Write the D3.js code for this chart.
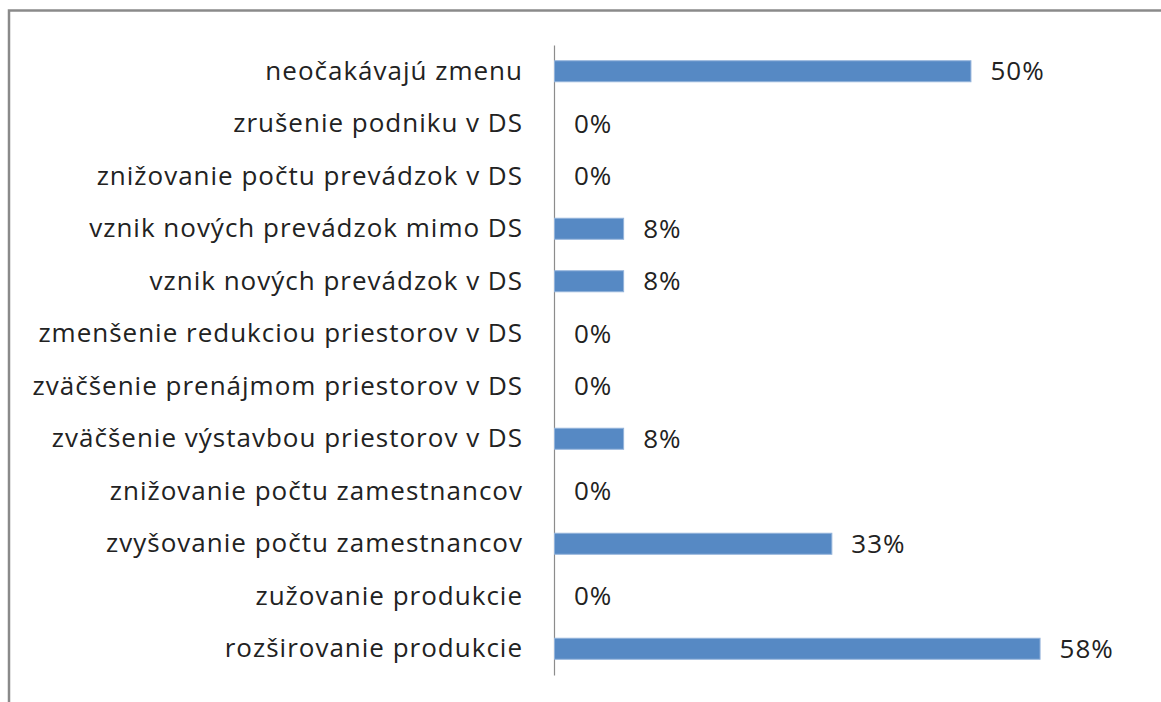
<!DOCTYPE html>
<html>
<head>
<meta charset="utf-8">
<script src="https://cdn.jsdelivr.net/npm/d3@7"></script>
<style>
  html, body { margin: 0; padding: 0; background: #fff; overflow: hidden; }
</style>
</head>
<body>
<div id="chart"></div>
<script>
// categories top -> bottom, as in the picture
const categories = [
  "neočakávajú zmenu",
  "zrušenie podniku v DS",
  "znižovanie počtu prevádzok v DS",
  "vznik nových prevádzok mimo DS",
  "vznik nových prevádzok v DS",
  "zmenšenie redukciou priestorov v DS",
  "zväčšenie prenájmom priestorov v DS",
  "zväčšenie výstavbou priestorov v DS",
  "znižovanie počtu zamestnancov",
  "zvyšovanie počtu zamestnancov",
  "zužovanie produkcie",
  "rozširovanie produkcie"
];
const values = [50, 0, 0, 8.3, 8.3, 0, 0, 8.3, 0, 33.3, 0, 58.3];
const valueLabels = ["50%", "0%", "0%", "8%", "8%", "0%", "0%", "8%", "0%", "33%", "0%", "58%"];

const width = 1161, height = 702;
const font = "'Open Sans', sans-serif";
const fontSize = 26;
const spacing = "1px";

const svg = d3.select("#chart")
  .append("svg")
  .attr("width", width)
  .attr("height", height);

// chart frame, runs off the bottom/right edge
svg.append("rect")
  .attr("x", 9)
  .attr("y", 10.5)
  .attr("width", 1300)
  .attr("height", 900)
  .attr("fill", "none")
  .attr("stroke", "#8a8a8a")
  .attr("stroke-width", 2.5);

const x = d3.scaleLinear().domain([0, 70]).range([554, 1137]);
const y = d3.scaleBand()
  .domain(categories)
  .range([45, 675])
  .paddingInner(0.6)
  .paddingOuter(0.3);

const axis = svg.append("g")
  .attr("transform", `translate(${x(0)},0)`)
  .call(d3.axisLeft(y).tickSize(0).tickSizeOuter(0).tickPadding(31));

axis.select(".domain").attr("stroke", "#8c8c8c").attr("stroke-width", 1.2);
axis.selectAll("text")
  .attr("font-family", font)
  .attr("font-size", fontSize)
  .attr("letter-spacing", spacing)
  .attr("fill", "#222");

svg.append("g")
  .selectAll("rect")
  .data(values)
  .join("rect")
  .attr("x", x(0) + 0.5)
  .attr("y", (d, i) => y(categories[i]))
  .attr("width", d => Math.max(0, x(d) - x(0)))
  .attr("height", y.bandwidth())
  .attr("fill", d => d > 0 ? "#5689c4" : "none")
  .attr("stroke", d => d > 0 ? "#93b3da" : "none")
  .attr("stroke-width", 1);

svg.append("g")
  .selectAll("text")
  .data(values)
  .join("text")
  .attr("x", d => x(d) + 20)
  .attr("y", (d, i) => y(categories[i]) + y.bandwidth() / 2)
  .attr("dy", "0.35em")
  .attr("font-family", font)
  .attr("font-size", fontSize)
  .attr("letter-spacing", spacing)
  .attr("fill", "#222")
  .text((d, i) => valueLabels[i]);
</script>
</body>
</html>
